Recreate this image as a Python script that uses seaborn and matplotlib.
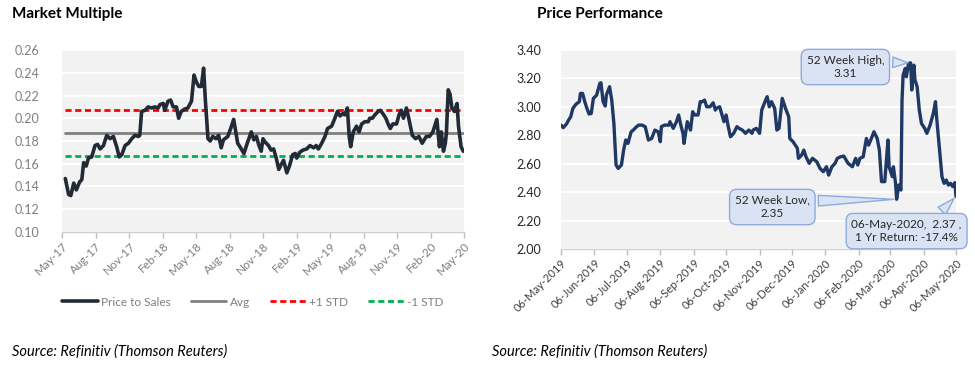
import numpy as np
import pandas as pd
import matplotlib
matplotlib.use("Agg")
import matplotlib.pyplot as plt
import matplotlib.dates as mdates
from matplotlib.ticker import FormatStrFormatter, MultipleLocator
from matplotlib.lines import Line2D
import seaborn as sns

# ---------------- data: Market Multiple (Price to Sales) ----------------
ps_dates = [
    "2017-05-10", "2017-05-19", "2017-05-25", "2017-06-02", "2017-06-09", "2017-06-18", "2017-06-24", "2017-06-29", "2017-07-06", "2017-07-12",
    "2017-07-21", "2017-07-30", "2017-08-06", "2017-08-13", "2017-08-22", "2017-08-31", "2017-09-09", "2017-09-18", "2017-09-27", "2017-10-04",
    "2017-10-11", "2017-10-20", "2017-10-29", "2017-11-07", "2017-11-16", "2017-11-25", "2017-11-29", "2017-12-04", "2017-12-13", "2017-12-22",
    "2017-12-31", "2018-01-09", "2018-01-18", "2018-01-23", "2018-02-01", "2018-02-05", "2018-02-14", "2018-02-21", "2018-02-28", "2018-03-09",
    "2018-03-15", "2018-03-22", "2018-03-31", "2018-04-09", "2018-04-19", "2018-04-26", "2018-05-02", "2018-05-09", "2018-05-16", "2018-05-22",
    "2018-05-27", "2018-06-03", "2018-06-09", "2018-06-16", "2018-06-25", "2018-07-02", "2018-07-09", "2018-07-15", "2018-07-27", "2018-08-05",
    "2018-08-12", "2018-08-23",
    "2018-08-29", "2018-09-09", "2018-09-18", "2018-09-29", "2018-10-06", "2018-10-13", "2018-10-19", "2018-10-26", "2018-10-31", "2018-11-06",
    "2018-11-15", "2018-11-22", "2018-11-29", "2018-12-06", "2018-12-13", "2018-12-19", "2018-12-26", "2019-01-04", "2019-01-11", "2019-01-20",
    "2019-01-27", "2019-01-31", "2019-02-08", "2019-02-17", "2019-02-27", "2019-03-08", "2019-03-18", "2019-03-25", "2019-03-31", "2019-04-09",
    "2019-04-18", "2019-04-25", "2019-05-06", "2019-05-15", "2019-05-22", "2019-05-29", "2019-06-05", "2019-06-11", "2019-06-18", "2019-06-23",
    "2019-06-27", "2019-07-04", "2019-07-13", "2019-07-20", "2019-07-27", "2019-08-05", "2019-08-14", "2019-08-18", "2019-08-25", "2019-09-01",
    "2019-09-10", "2019-09-16", "2019-09-23", "2019-10-01", "2019-10-07", "2019-10-13", "2019-10-20", "2019-10-30", "2019-11-06", "2019-11-12",
    "2019-11-18", "2019-11-26", "2019-12-03", "2019-12-12", "2019-12-21", "2019-12-30", "2020-01-08", "2020-01-19", "2020-01-28", "2020-02-06",
    "2020-02-17", "2020-02-24", "2020-02-29", "2020-03-06", "2020-03-11", "2020-03-14", "2020-03-19", "2020-03-24", "2020-03-29", "2020-04-05",
    "2020-04-12", "2020-04-16", "2020-04-23", "2020-04-29",
]
ps_values = [
    0.147, 0.133, 0.132, 0.143, 0.137, 0.144, 0.146, 0.161, 0.158, 0.165,
    0.166, 0.176, 0.177, 0.173, 0.176, 0.185, 0.182, 0.184, 0.175, 0.166,
    0.168, 0.176, 0.178, 0.182, 0.185, 0.184, 0.185, 0.206, 0.207, 0.210,
    0.209, 0.210, 0.209, 0.212, 0.213, 0.207, 0.215, 0.216, 0.210, 0.210,
    0.200, 0.206, 0.208, 0.209, 0.215, 0.238, 0.232, 0.228, 0.228, 0.244,
    0.215, 0.182, 0.180, 0.184, 0.182, 0.185, 0.174, 0.181, 0.184, 0.192,
    0.199, 0.178,
    0.175, 0.169, 0.178, 0.188, 0.181, 0.184, 0.177, 0.171, 0.182, 0.179,
    0.176, 0.172, 0.173, 0.165, 0.155, 0.159, 0.163, 0.152, 0.158, 0.168,
    0.169, 0.165, 0.170, 0.172, 0.173, 0.176, 0.174, 0.176, 0.173, 0.178,
    0.184, 0.191, 0.193, 0.200, 0.206, 0.202, 0.204, 0.203, 0.209, 0.184,
    0.175, 0.188, 0.193, 0.188, 0.195, 0.197, 0.197, 0.200, 0.200, 0.203,
    0.206, 0.207, 0.204, 0.200, 0.195, 0.191, 0.195, 0.195, 0.203, 0.207,
    0.200, 0.209, 0.199, 0.185, 0.182, 0.184, 0.178, 0.184, 0.184, 0.188,
    0.199, 0.175, 0.188, 0.171, 0.178, 0.187, 0.225, 0.221, 0.209, 0.206,
    0.213, 0.193, 0.175, 0.171,
]
ps_avg = 0.187
ps_plus_std = 0.207
ps_minus_std = 0.167
mm_series_names = ["Price to Sales", "Avg", "+1 STD", "-1 STD"]
mm_tick_dates = ["2017-05-01", "2017-08-01", "2017-11-01", "2018-02-01", "2018-05-01", "2018-08-01",
                 "2018-11-01", "2019-02-01", "2019-05-01", "2019-08-01", "2019-11-01", "2020-02-01", "2020-05-01"]

# ---------------- data: Price Performance ----------------
px_dates = [
    "2019-05-06", "2019-05-08", "2019-05-11", "2019-05-13", "2019-05-15", "2019-05-17", "2019-05-20", "2019-05-23", "2019-05-24", "2019-05-26",
    "2019-05-28", "2019-05-30", "2019-06-01", "2019-06-03", "2019-06-05", "2019-06-08", "2019-06-11", "2019-06-12", "2019-06-14", "2019-06-16",
    "2019-06-17", "2019-06-20", "2019-06-22", "2019-06-24", "2019-06-26", "2019-06-28", "2019-07-01", "2019-07-03", "2019-07-05", "2019-07-07",
    "2019-07-10", "2019-07-12", "2019-07-15", "2019-07-17", "2019-07-20", "2019-07-23", "2019-07-26", "2019-07-29", "2019-08-01", "2019-08-04",
    "2019-08-06", "2019-08-07", "2019-08-10", "2019-08-14", "2019-08-15", "2019-08-18", "2019-08-21", "2019-08-23", "2019-08-25", "2019-08-27",
    "2019-08-28", "2019-08-31", "2019-09-03", "2019-09-05", "2019-09-07", "2019-09-10", "2019-09-12", "2019-09-14", "2019-09-16", "2019-09-18",
    "2019-09-21", "2019-09-24", "2019-09-26", "2019-09-27",
    "2019-09-30", "2019-10-04", "2019-10-06", "2019-10-08", "2019-10-10", "2019-10-13", "2019-10-16", "2019-10-18", "2019-10-21", "2019-10-24",
    "2019-10-27", "2019-10-30", "2019-10-31", "2019-11-03", "2019-11-06", "2019-11-08", "2019-11-11", "2019-11-13", "2019-11-15", "2019-11-17",
    "2019-11-20", "2019-11-22", "2019-11-24", "2019-11-27", "2019-11-30", "2019-12-03", "2019-12-04", "2019-12-07", "2019-12-11", "2019-12-12",
    "2019-12-15", "2019-12-17", "2019-12-19", "2019-12-22", "2019-12-25", "2019-12-29", "2020-01-01", "2020-01-04", "2020-01-07", "2020-01-09",
    "2020-01-12", "2020-01-15", "2020-01-17", "2020-01-20", "2020-01-23", "2020-01-27", "2020-01-31", "2020-02-03", "2020-02-05", "2020-02-07",
    "2020-02-10", "2020-02-13", "2020-02-15", "2020-02-17", "2020-02-20", "2020-02-23", "2020-02-25", "2020-02-27", "2020-03-01", "2020-03-04",
    "2020-03-05", "2020-03-08", "2020-03-09", "2020-03-11", "2020-03-12", "2020-03-14", "2020-03-16", "2020-03-17", "2020-03-18", "2020-03-20",
    "2020-03-21", "2020-03-23", "2020-03-25", "2020-03-26", "2020-03-28", "2020-03-29", "2020-03-31", "2020-04-02", "2020-04-04", "2020-04-07",
    "2020-04-09", "2020-04-12", "2020-04-15", "2020-04-17", "2020-04-18", "2020-04-21", "2020-04-23", "2020-04-25", "2020-04-27", "2020-04-29",
    "2020-05-01", "2020-05-03", "2020-05-05", "2020-05-06",
]
px_values = [
    2.872, 2.854, 2.879, 2.907, 2.931, 2.990, 3.020, 3.037, 3.095, 3.095,
    3.037, 2.990, 2.950, 2.954, 3.060, 3.083, 3.166, 3.170, 3.037, 3.006,
    3.083, 3.142, 3.048, 2.884, 2.591, 2.567, 2.591, 2.696, 2.767, 2.743,
    2.825, 2.837, 2.861, 2.872, 2.872, 2.861, 2.767, 2.778, 2.837, 2.825,
    2.755, 2.861, 2.872, 2.872, 2.896, 2.849, 2.896, 2.943, 2.872, 2.814,
    2.743, 2.896, 2.837, 2.966, 2.943, 2.943, 3.037, 3.037, 3.048, 3.001,
    3.001, 3.029, 2.978, 2.990,
    3.001, 2.896, 2.943, 2.861, 2.790, 2.814, 2.861, 2.849, 2.837, 2.814,
    2.837, 2.814, 2.837, 2.849, 2.814, 2.978, 3.037, 3.072, 3.001, 3.037,
    2.990, 2.837, 2.849, 3.060, 2.990, 2.931, 2.778, 2.755, 2.709, 2.638,
    2.661, 2.696, 2.649, 2.603, 2.638, 2.614, 2.567, 2.544, 2.579, 2.520,
    2.579, 2.603, 2.638, 2.649, 2.654, 2.603, 2.579, 2.638, 2.591, 2.638,
    2.649, 2.778, 2.731, 2.767, 2.825, 2.778, 2.696, 2.474, 2.474, 2.767,
    2.579, 2.509, 2.579, 2.462, 2.350, 2.450, 2.415, 3.048, 3.224, 3.271,
    3.212, 3.306, 3.310, 3.119, 3.294, 3.189, 3.142, 2.978, 2.884, 2.849,
    2.814, 2.872, 2.954, 3.037, 2.931, 2.673, 2.509, 2.462, 2.485, 2.450,
    2.462, 2.439, 2.467, 2.370,
]
high_label = "52 Week High,\n3.31"
low_label = "52 Week Low,\n2.35"
last_label = "06-May-2020,  2.37 ,\n1 Yr Return: -17.4%"

# ---------------- styling ----------------
sns.set_theme(style="white")
plt.rcParams['font.family'] = ['Lato', 'DejaVu Sans']

BG = "#f2f2f2"
fig = plt.figure(figsize=(9.75, 3.76), dpi=100)
ax1 = fig.add_axes([0.0636, 0.383, 0.4123, 0.484])
ax2 = fig.add_axes([0.5754, 0.3378, 0.4051, 0.529])

mm = pd.DataFrame({"date": pd.to_datetime(ps_dates), "ps": ps_values})
mm["avg"] = ps_avg
mm["plus"] = ps_plus_std
mm["minus"] = ps_minus_std

for ax in (ax1, ax2):
    ax.set_facecolor(BG)
    for s in ("left", "right", "top"):
        ax.spines[s].set_visible(False)
    ax.spines["bottom"].set_color("#d0d0d0")
    ax.spines["bottom"].set_linewidth(1.0)
    ax.grid(axis="y", color="white", linewidth=1.3)
    ax.set_axisbelow(True)

sns.lineplot(data=mm, x="date", y="avg", ax=ax1, color="#808080", linewidth=2.0)
sns.lineplot(data=mm, x="date", y="plus", ax=ax1, color="#ff0000", linewidth=2.0)
sns.lineplot(data=mm, x="date", y="minus", ax=ax1, color="#00b050", linewidth=2.0)
ax1.lines[1].set_dashes([2.2, 1.3])
ax1.lines[2].set_dashes([2.2, 1.3])
sns.lineplot(data=mm, x="date", y="ps", ax=ax1, color="#222a35", linewidth=2.6)

ax1.set_xlim(pd.Timestamp(mm_tick_dates[0]), pd.Timestamp(mm_tick_dates[-1]))
ax1.set_ylim(0.10, 0.26)
ax1.yaxis.set_major_locator(MultipleLocator(0.02))
ax1.yaxis.set_major_formatter(FormatStrFormatter("%.2f"))
ax1.set_xticks(pd.to_datetime(mm_tick_dates))
ax1.xaxis.set_major_formatter(mdates.DateFormatter("%b-%y"))
ax1.tick_params(axis="x", colors="#bfbfbf", labelcolor="#7f7f7f", length=4, width=1,
                direction="out", labelsize=8.5, pad=2, bottom=True)
ax1.tick_params(axis="y", labelcolor="#7f7f7f", length=0, labelsize=9, pad=16)
for lab in ax1.get_xticklabels():
    lab.set_rotation(45)
    lab.set_ha("right")
    lab.set_rotation_mode("anchor")
ax1.set_xlabel("")
ax1.set_ylabel("")

handles = [
    Line2D([0], [0], color="#222a35", lw=2.6),
    Line2D([0], [0], color="#808080", lw=2.0),
    Line2D([0], [0], color="#ff0000", lw=2.0, dashes=[2.2, 1.3]),
    Line2D([0], [0], color="#00b050", lw=2.0, dashes=[2.2, 1.3]),
]
ax1.legend(handles, mm_series_names, loc="center", bbox_to_anchor=(0.475, -0.385), ncol=4,
           frameon=False, fontsize=8.5, labelcolor="#7f7f7f", handlelength=3.0,
           handletextpad=0.3, columnspacing=1.7)

# ---------------- Price performance ----------------
px = pd.DataFrame({"date": pd.to_datetime(px_dates), "price": px_values})
sns.lineplot(data=px, x="date", y="price", ax=ax2, color="#1f3864", linewidth=2.4)
ax2.set_xlim(px["date"].iloc[0], px["date"].iloc[-1])
ax2.set_ylim(2.0, 3.4)
ax2.yaxis.set_major_locator(MultipleLocator(0.2))
ax2.yaxis.set_major_formatter(FormatStrFormatter("%.2f"))
ax2.xaxis.set_major_locator(mdates.MonthLocator(bymonthday=6))
ax2.xaxis.set_major_formatter(mdates.DateFormatter("%d-%b-%Y"))
ax2.tick_params(axis="x", colors="#bfbfbf", labelcolor="#404040", length=4, width=1,
                direction="out", labelsize=8, pad=2, bottom=True)
ax2.tick_params(axis="y", labelcolor="#262626", length=0, labelsize=9, pad=14)
for lab in ax2.get_xticklabels():
    lab.set_rotation(45)
    lab.set_ha("right")
    lab.set_rotation_mode("anchor")
ax2.set_xlabel("")
ax2.set_ylabel("")

box = dict(boxstyle="round,pad=0.45,rounding_size=0.6", fc="#dae3f3", ec="#8faadc", lw=1.0)
i_hi = int(np.argmax(px_values))
i_lo = int(np.argmin(px_values))
arrow_hi = dict(arrowstyle="wedge,tail_width=0.9,shrink_factor=0.5", fc="#dae3f3", ec="#8faadc",
                lw=1.0, relpos=(1.0, 0.7))
ax2.annotate(high_label, xy=(px["date"].iloc[i_hi], px_values[i_hi]), xytext=(0.72, 0.915),
             textcoords="axes fraction", ha="center", va="center", fontsize=8.5, color="#262626",
             bbox=box, arrowprops=arrow_hi, linespacing=1.3)
arrow_lo = dict(arrow_hi)
arrow_lo["relpos"] = (1.0, 0.75)
ax2.annotate(low_label, xy=(px["date"].iloc[i_lo], px_values[i_lo]), xytext=(0.535, 0.211),
             textcoords="axes fraction", ha="center", va="center", fontsize=8.5, color="#262626",
             bbox=box, arrowprops=arrow_lo, linespacing=1.3)
arrow_last = dict(arrow_hi)
arrow_last["relpos"] = (0.75, 1.0)
ax2.annotate(last_label, xy=(px["date"].iloc[-1], px_values[-1]), xytext=(0.875, 0.09),
             textcoords="axes fraction", ha="center", va="center", fontsize=8.5, color="#262626",
             bbox=box, arrowprops=arrow_last, linespacing=1.3, annotation_clip=False)

# ---------------- titles & sources ----------------
fig.text(0.012, 0.963, "Market Multiple", fontsize=11, fontweight="bold", color="#000000", va="center")
fig.text(0.551, 0.963, "Price Performance", fontsize=11, fontweight="bold", color="#000000", va="center")
fig.text(0.012, 0.064, "Source: Refinitiv (Thomson Reuters)", fontsize=10.5, style="italic", color="#000000", va="center")
fig.text(0.505, 0.064, "Source: Refinitiv (Thomson Reuters)", fontsize=10.5, style="italic", color="#000000", va="center")

fig.savefig("out.png", dpi=100, facecolor="white")
